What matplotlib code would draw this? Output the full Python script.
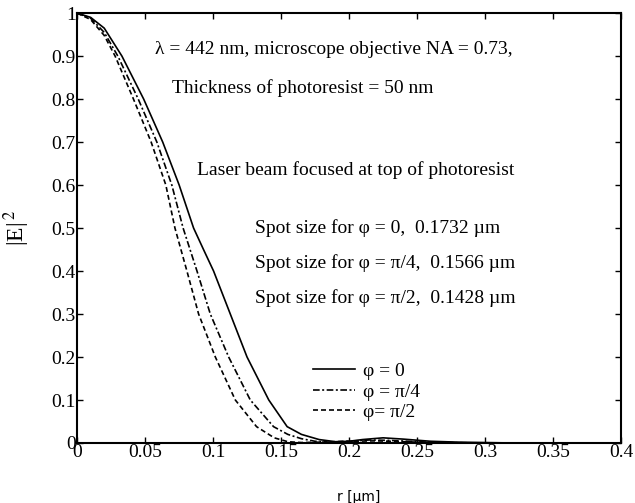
import numpy as np
import matplotlib
matplotlib.use('Agg')
import matplotlib.pyplot as plt

plt.rcParams['font.family'] = ['Liberation Serif', 'DejaVu Serif']
plt.rcParams['mathtext.fontset'] = 'stix'

# |E|^2 profiles, r in um
r_phi0 = [0, 0.01, 0.02, 0.033, 0.049, 0.063, 0.0751, 0.0857, 0.093, 0.1004, 0.1127, 0.125, 0.141,
          0.1545, 0.165, 0.178, 0.19, 0.2, 0.21, 0.225, 0.24, 0.26, 0.28, 0.3, 0.32]
e_phi0 = [1, 0.99, 0.965, 0.9, 0.8, 0.7, 0.6, 0.5, 0.45, 0.4, 0.3, 0.2, 0.1,
          0.038, 0.02, 0.008, 0.003, 0.004, 0.008, 0.012, 0.009, 0.004, 0.002, 0.001, 0.0]

r_phi45 = [0, 0.01, 0.02, 0.030, 0.045, 0.0587, 0.0697, 0.078, 0.0882, 0.098, 0.1115, 0.1274,
           0.1445, 0.155, 0.165, 0.175, 0.186, 0.2, 0.215, 0.23, 0.25, 0.27, 0.3]
e_phi45 = [1, 0.988, 0.955, 0.9, 0.8, 0.7, 0.6, 0.5, 0.4, 0.3, 0.2, 0.1,
           0.038, 0.02, 0.01, 0.004, 0.002, 0.004, 0.007, 0.006, 0.003, 0.001, 0.0]

r_phi90 = [0, 0.01, 0.02, 0.028, 0.0415, 0.0545, 0.0653, 0.072, 0.0808, 0.0894, 0.1017, 0.1164,
           0.132, 0.145, 0.155, 0.165, 0.18, 0.2, 0.22, 0.24, 0.26, 0.3]
e_phi90 = [1, 0.985, 0.948, 0.9, 0.8, 0.7, 0.6, 0.5, 0.4, 0.3, 0.2, 0.1,
           0.038, 0.012, 0.003, 0.001, 0.002, 0.004, 0.005, 0.003, 0.001, 0.0]

labels = ['φ = 0', 'φ = π/4', 'φ= π/2']
xticks = [0, 0.05, 0.1, 0.15, 0.2, 0.25, 0.3, 0.35, 0.4]
yticks = [0, 0.1, 0.2, 0.3, 0.4, 0.5, 0.6, 0.7, 0.8, 0.9, 1]

fig = plt.figure(figsize=(6.35, 5.03), dpi=100)
ax = fig.add_axes([0.1213, 0.1193, 0.8567, 0.8547])

ax.plot(r_phi0, e_phi0, '-', color='k', lw=1.2, label=labels[0])
ax.plot(r_phi45, e_phi45, color='k', lw=1.2, ls=(0, (4, 1.5, 1.2, 1.5)), label=labels[1])
ax.plot(r_phi90, e_phi90, color='k', lw=1.2, ls=(0, (3, 1.8)), label=labels[2])

ax.set_xlim(0, 0.4); ax.set_ylim(0, 1)
ax.set_xticks(xticks); ax.set_yticks(yticks)
ax.set_xticklabels(['0', '0.05', '0.1', '0.15', '0.2', '0.25', '0.3', '0.35', '0.4'])
ax.set_yticklabels(['0', '0.1', '0.2', '0.3', '0.4', '0.5', '0.6', '0.7', '0.8', '0.9', '1'])
ax.tick_params(direction='in', top=True, right=True, length=4, width=1, labelsize=14, pad=1)
for s in ax.spines.values():
    s.set_linewidth(1.5)

fs = 14
ax.text(0.0575, 0.915, 'λ = 442 nm, microscope objective NA = 0.73,', fontsize=fs, va='center')
ax.text(0.070, 0.825, 'Thickness of photoresist = 50 nm', fontsize=fs, va='center')
ax.text(0.088, 0.635, 'Laser beam focused at top of photoresist', fontsize=fs, va='center')
ax.text(0.131, 0.5, 'Spot size for φ = 0,  0.1732 µm', fontsize=fs, va='center')
ax.text(0.131, 0.418, 'Spot size for φ = π/4,  0.1566 µm', fontsize=fs, va='center')
ax.text(0.131, 0.337, 'Spot size for φ = π/2,  0.1428 µm', fontsize=fs, va='center')

ax.legend(loc='upper left', bbox_to_anchor=(0.415, 0.21), frameon=False, fontsize=14,
          handlelength=2.2, handletextpad=0.4, labelspacing=0.15, borderpad=0)

ax.set_ylabel('|E|$^{\\,2}$', fontsize=17, labelpad=14)
fig.text(359 / 635, 1 - 497 / 503, 'r [µm]', fontsize=10, family='DejaVu Sans',
         ha='center', va='center')

fig.savefig('out.png', dpi=100)
